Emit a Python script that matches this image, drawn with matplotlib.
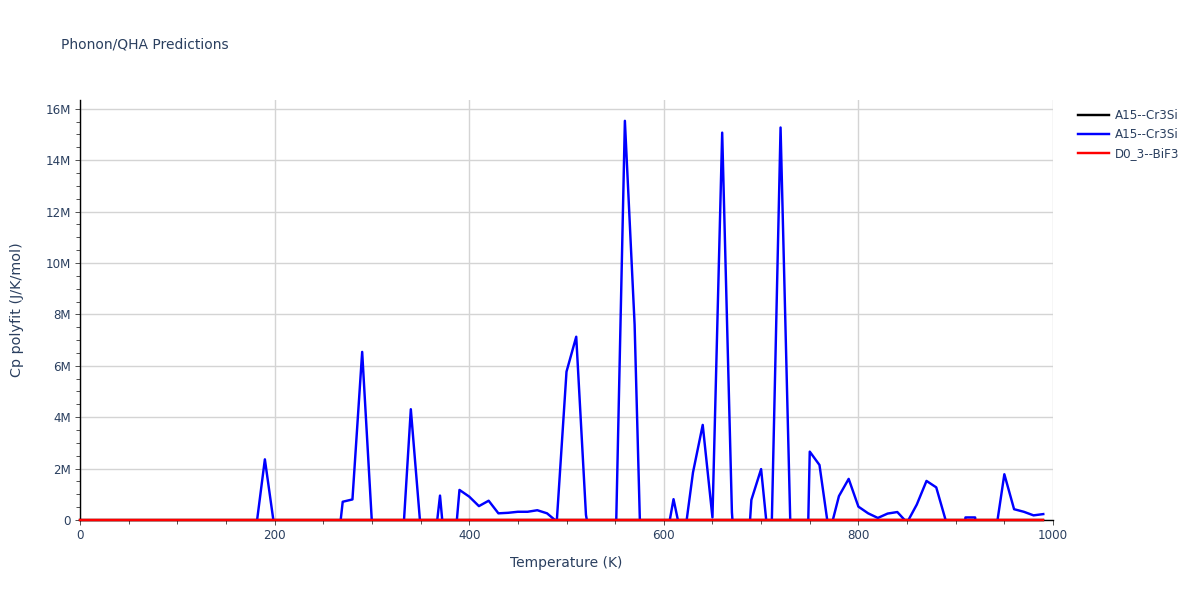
import matplotlib
matplotlib.use("Agg")
import matplotlib.pyplot as plt
from matplotlib.ticker import MultipleLocator, FuncFormatter
import numpy as np

# ---- data ----
temperature = list(range(0, 1000, 10))

# A15--Cr3Si (blue), values in millions of J/K/mol
cp_blue_M = [
    -0.5, -0.5, -0.5, -0.5, -0.5, -0.5, -0.5, -0.5, -0.5, -0.5,
    -0.5, -0.5, -0.5, -0.5, -0.5, -0.5, -0.5, -0.5,
    -0.6, 2.36, -0.35,
    -0.5, -0.5, -0.5, -0.5, -0.5,
    -2.7, 0.71, 0.80, 6.54, -0.1, -0.5, -0.5, -1.85, 4.31, -0.3,
    -2.4, 0.95, -3.2, 1.17, 0.91, 0.54, 0.75, 0.26, 0.28, 0.32,
    0.32, 0.38, 0.26, -0.06, 5.77, 7.13, 0.2, -2.0, -1.0, -2.0,
    15.53, 7.6, -6.5, -1.0, -1.3, 0.81, -1.0, 1.85, 3.70, 0.1,
    15.07, 0.3, -5, 0.78, 1.98, -1.8, 15.27, -0.1, -15, 2.66,
    2.14, -0.55, 0.93, 1.6, 0.52, 0.26, 0.08, 0.25, 0.31, -0.1,
    0.6, 1.52, 1.27, -0.05, -10, 0.1, 0.1, -10, -0.76, 1.78,
    0.42, 0.32, 0.18, 0.23,
]
cp_black_M = [0.0] * len(temperature)   # A15--Cr3Si (black)
cp_red_M = [0.0] * len(temperature)     # D0_3--BiF3 (red)

series_labels = ["A15--Cr3Si", "A15--Cr3Si", "D0_3--BiF3"]
series_colors = ["black", "blue", "red"]

title = "Phonon/QHA Predictions"
xlabel = "Temperature (K)"
ylabel = "Cp polyfit (J/K/mol)"

# ---- figure ----
W, H = 1200, 600
PX = 72 / 100  # points per pixel
plt.rcParams['font.family'] = ['DejaVu Sans']
fig = plt.figure(figsize=(12, 6), dpi=100)
txt = '#2a3f5f'

left, right, top, bottom = 80, 1053, 100, 520
ax = fig.add_axes([left / W, 1 - bottom / H, (right - left) / W, (bottom - top) / H])

T = np.array(temperature)
series = [np.array(cp_black_M) * 1e6, np.array(cp_blue_M) * 1e6, np.array(cp_red_M) * 1e6]
for i, (vals, lab, col) in enumerate(zip(series, series_labels, series_colors)):
    line, = ax.plot(T, vals, color=col, lw=1.75, label=lab, zorder=3 + i)
    if col != 'blue':
        line.set_clip_on(False)

ax.set_xlim(0, 1000)
ax.set_ylim(0, 16.34e6)

ax.xaxis.set_major_locator(MultipleLocator(200))
ax.xaxis.set_minor_locator(MultipleLocator(50))
ax.yaxis.set_major_locator(MultipleLocator(2e6))
ax.yaxis.set_minor_locator(MultipleLocator(0.5e6))


def fmt(v, pos):
    if abs(v) < 1:
        return "0"
    return f"{v/1e6:g}M"


ax.yaxis.set_major_formatter(FuncFormatter(fmt))

ax.grid(True, which='major', color='#d4d4d4', lw=1.0, zorder=0)
ax.set_axisbelow(True)
for s in ['top', 'right']:
    ax.spines[s].set_visible(False)
for s in ['left', 'bottom']:
    ax.spines[s].set_color('black')
    ax.spines[s].set_linewidth(1.0)
    ax.spines[s].set_zorder(2.5)

ax.tick_params(axis='both', which='major', direction='out', length=5 * PX, width=1 * PX,
               color='#555555', labelcolor=txt, labelsize=8.6, pad=3)
ax.tick_params(axis='both', which='minor', direction='out', length=4 * PX, width=1 * PX,
               color='#555555')

fig.text(61 / W, 1 - 45 / H, title, ha='left', va='center', fontsize=10, color=txt)
fig.text(566 / W, 1 - 563 / H, xlabel, ha='center', va='center', fontsize=10, color=txt)
fig.text(17 / W, 1 - 310 / H, ylabel, ha='center', va='center', rotation=90,
         fontsize=10.4, color=txt)

leg = fig.legend(loc='upper left', bbox_to_anchor=(1078 / W, 1 - 109 / H),
                 frameon=False, fontsize=8.6, handlelength=2.6, handletextpad=0.45,
                 labelspacing=0.52, borderaxespad=0, borderpad=0)
for h in leg.get_lines():
    h.set_linewidth(1.75)
for t in leg.get_texts():
    t.set_color(txt)

fig.savefig("out.png", dpi=100)
